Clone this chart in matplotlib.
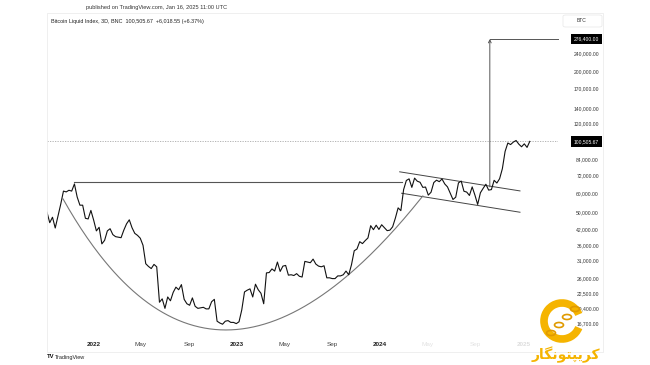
import numpy as np
import pandas as pd
import matplotlib
matplotlib.use("Agg")
import matplotlib.pyplot as plt
from matplotlib.patches import Rectangle, Arc, FancyBboxPatch, Ellipse
from matplotlib.transforms import blended_transform_factory

plt.rcParams['font.family'] = ['Liberation Sans', 'DejaVu Sans']

# weekly closes (Sep 2021 -> Jan 2025)
start_date = "2021-09-03"
btc_close = [
    49900, 45000, 47500, 42700, 48000, 54000, 61500, 61000, 62000, 61500, 66000, 58000, 53500, 53500, 47000, 46700, 50800, 46200,
    41500, 43000, 36500, 37800, 41500, 42400, 40000, 39200, 39000, 38800, 41800, 44500, 46300, 42800, 40500, 39700, 38600,
    36000, 30000, 29200, 28600, 29800, 29100, 20500, 21200, 19300, 21600, 20800, 22600, 23800, 23200, 24400, 21100, 20200,
    19900, 21400, 19700, 19300, 19400, 19500, 19200, 19200, 20600, 21100, 17000, 16700, 16500, 17000, 17100, 16800, 16800, 16600,
    16900, 19000, 22700, 23100, 23400, 21600, 24500, 23200, 22400, 20200, 27400, 27500, 28500, 27900, 30500, 27800, 29300,
    29500, 26800, 26900, 26700, 27200, 26500, 26300, 30700, 30500, 30300, 31400, 29900, 29300, 29100, 29400, 26100, 26100,
    25900, 25900, 26600, 26600, 26900, 27900, 26900, 29700, 34100, 34700, 37300, 36600, 37700, 38700, 43700, 42000, 43900, 42100,
    44100, 42800, 41600, 41800, 43200, 47100, 52100, 50700, 62400, 68300, 69400, 63800, 69900, 67800, 67100, 63800, 64000,
    59100, 60800, 66900, 68500, 67500, 69300, 66000, 64100, 60300, 56600, 57900, 66700, 67900, 61400, 60900, 58900, 64100, 59100,
    53900, 60500, 63200, 65800, 62100, 62400, 68400, 66600, 69500, 76700, 91000, 98900, 97400, 99800, 101400, 97800, 95300,
    98100, 94700, 100505.67,
]
dates = pd.date_range(start_date, periods=len(btc_close), freq="7D")

last_price = 100505.67
target_price = 276400

price_ticks = [240000, 200000, 170000, 140000, 120000, 84000, 72000, 60000, 50000,
               42000, 36000, 31000, 26000, 22500, 19400, 16700]
x_tick_dates = ["2022-01-01", "2022-05-01", "2022-09-01", "2023-01-01", "2023-05-01",
                "2023-09-01", "2024-01-01", "2024-05-01", "2024-09-01", "2025-01-01"]
x_tick_labels = ["2022", "May", "Sep", "2023", "May", "Sep", "2024", "May", "Sep", "2025"]

# drawings on the chart
ath_dates = ["2021-11-10", "2024-02-27"]
ath_price = 67400
upper_dates = ["2024-02-20", "2024-12-23"]
upper_prices = [74400, 61600]
lower_dates = ["2024-02-25", "2024-12-23"]
lower_prices = [60200, 49900]
cup_dates = ["2021-10-14", "2022-10-26", "2024-04-19"]
cup_prices = [56900, 4210, 58600]
target_date = "2024-10-07"
target_base = 64100

W, H = 650, 365
fig = plt.figure(figsize=(6.5, 3.65), dpi=100)
fig.patch.set_facecolor("white")

def fx(x):
    return x / W

def fy(y):
    return 1 - y / H

ax = fig.add_axes([fx(47), fy(338), (558 - 47) / W, (338 - 13) / H])
ax.set_yscale("log")
ax.set_xlim(pd.Timestamp("2021-09-03"), pd.Timestamp("2025-03-30"))
ax.set_ylim(14400, 357400)
for s in ax.spines.values():
    s.set_visible(False)

ax.plot(dates, btc_close, color="#111111", lw=0.8, zorder=4)

# last price dotted line
ax.axhline(last_price, color="#aaaaaa", lw=0.6, ls=(0, (1.5, 1.5)), zorder=1)

# ATH line
ax.plot(pd.to_datetime(ath_dates), [ath_price, ath_price], color="#555555", lw=0.8, zorder=3)

# channel
ax.plot(pd.to_datetime(upper_dates), upper_prices, color="#444444", lw=0.7, zorder=3)
ax.plot(pd.to_datetime(lower_dates), lower_prices, color="#444444", lw=0.7, zorder=3)

# cup curve (quadratic bezier in date / log price space)
cx = pd.to_datetime(cup_dates).map(pd.Timestamp.toordinal).values.astype(float)
cy = np.log(cup_prices)
t = np.linspace(0, 1, 200)
bx = (1 - t) ** 2 * cx[0] + 2 * t * (1 - t) * cx[1] + t ** 2 * cx[2]
by = (1 - t) ** 2 * cy[0] + 2 * t * (1 - t) * cy[1] + t ** 2 * cy[2]
bdates = [pd.Timestamp.fromordinal(int(v)) + pd.Timedelta(days=v - int(v)) for v in bx]
ax.plot(bdates, np.exp(by), color="#777777", lw=0.8, zorder=3)

# target projection
td = pd.Timestamp(target_date)
ax.annotate("", xy=(td, target_price), xytext=(td, target_base),
            arrowprops=dict(arrowstyle="->", lw=0.7, color="#555555", mutation_scale=5,
                            shrinkA=0, shrinkB=0), zorder=3)
ax.plot([td, pd.Timestamp("2025-03-30")], [target_price, target_price],
        color="#555555", lw=0.7, clip_on=False, zorder=3)

# axes ticks
ax.set_yticks(price_ticks)
ax.set_yticklabels([f"{v:,.2f}" for v in price_ticks])
ax.minorticks_off()
ax.yaxis.tick_right()
ax.tick_params(axis="y", length=0, pad=29.5, labelsize=3.6, labelcolor="#333333")
for lbl in ax.get_yticklabels():
    lbl.set_ha("right")

ax.set_xticks(pd.to_datetime(x_tick_dates))
ax.set_xticklabels(x_tick_labels)
ax.tick_params(axis="x", length=0, pad=3, labelsize=4.6, labelcolor="#444444")
for lbl in ax.get_xticklabels():
    if lbl.get_text().isdigit():
        lbl.set_fontweight("bold")
        lbl.set_color("#222222")

# price labels in black boxes
tr = blended_transform_factory(fig.transFigure, ax.transData)
for v in [target_price, last_price]:
    ax.text(fx(599), v, f"{v:,.2f}", transform=tr, ha="right", va="center", fontsize=3.6,
            color="white", clip_on=False, zorder=6,
            bbox=dict(boxstyle="square,pad=0.55", fc="black", ec="none"))

# chart frame and BTC box
fig.add_artist(Rectangle((fx(47), fy(352)), (603 - 47) / W, (352 - 13) / H, transform=fig.transFigure,
                         fill=False, ec="#ececec", lw=0.6))
fig.add_artist(FancyBboxPatch((fx(563), fy(27)), 39 / W, 12 / H, boxstyle="round,pad=0,rounding_size=0.004",
                              transform=fig.transFigure, fc="white", ec="#e6e6e6", lw=0.5))
fig.text(fx(582), fy(21), "BTC", ha="center", va="center", fontsize=3.6, color="#333333")

# faded region at bottom right
fig.add_artist(Rectangle((fx(392), fy(352)), (545 - 392) / W, 17 / H, transform=fig.transFigure,
                         fc="white", ec="none", alpha=0.85, zorder=5))

# header texts
fig.text(fx(157), fy(7), "published on TradingView.com, Jan 16, 2025 11:00 UTC",
         ha="center", va="center", fontsize=4.1, color="#333333")
fig.text(fx(51), fy(21), "Bitcoin Liquid Index, 3D, BNC  100,505.67  +6,018.55 (+6.37%)",
         ha="left", va="center", fontsize=3.9, color="#222222")

# footer
fig.text(fx(47), fy(357), "TV", ha="left", va="center", fontsize=4.2, fontweight="bold", color="#111111")
fig.text(fx(55), fy(357), "TradingView", ha="left", va="center", fontsize=4.0, color="#222222")

# watermark logo
gold = "#F5B400"
fig.add_artist(Arc((fx(562), fy(321)), 36 / W, 36 / H, theta1=35, theta2=325,
                   transform=fig.transFigure, color=gold, lw=5.5, zorder=7))
for i, (px, py) in enumerate([(551, 333), (559, 325), (567, 317), (575, 309)]):
    fig.add_artist(Ellipse((fx(px), fy(py)), 9 / W, 5 / H, angle=45 if i % 2 == 0 else -45,
                           transform=fig.transFigure, fc="none", ec="#E09A00", lw=1.2, zorder=8))
# "کریپتونگار" written in visual order with Arabic presentation forms
logo_text = "\ufead\ufe8e\ufb95\ufee7\ufeee\ufe98\ufb59\ufbfe\ufeae\ufb90"
fig.text(fx(566), fy(355), logo_text, ha="center", va="center", fontsize=10,
         family=["DejaVu Sans"], fontweight="bold", color=gold, zorder=8)

fig.savefig("out.png", dpi=100)
